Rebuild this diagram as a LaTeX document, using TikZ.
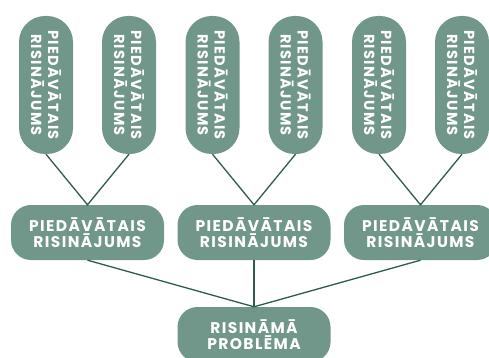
\documentclass[tikz,border=0pt]{standalone}
\usepackage{fontspec}
\newfontfamily\pillfont{Poppins}[LetterSpace=9, BoldFont={* Bold}]
\definecolor{pillfill}{HTML}{71968A}
\definecolor{linkline}{HTML}{2D5C4C}
\begin{document}
\begin{tikzpicture}[x=1pt,y=1pt,
  pill/.style={fill=pillfill, rounded corners=20pt, minimum width=153pt, minimum height=55pt,
    inner sep=0pt, align=center, text=white, font=\pillfont\bfseries\fontsize{15.5}{16}\selectfont},
  vpill/.style={fill=pillfill, rounded corners=26pt, minimum width=138pt, minimum height=54pt,
    inner sep=0pt, align=center, text=white, rotate=-90, font=\pillfont\bfseries\fontsize{14.6}{17}\selectfont},
  link/.style={draw=linkline, line width=1.3pt}]
\useasboundingbox (0,0) rectangle (489,-358);
% bottom
\node[pill] (p) at (254,-334.5) {RISINĀMĀ\\PROBLĒMA};
% middle
\node[pill] (m1) at (87.5,-232.5) {PIEDĀVĀTAIS\\RISINĀJUMS};
\node[pill] (m2) at (254,-232.5) {PIEDĀVĀTAIS\\RISINĀJUMS};
\node[pill] (m3) at (420.5,-232.5) {PIEDĀVĀTAIS\\RISINĀJUMS};
% top
\node[vpill] (t1) at (46,-85) {PIEDĀVĀTAIS\\RISINĀJUMS};
\node[vpill] (t2) at (129,-85) {PIEDĀVĀTAIS\\RISINĀJUMS};
\node[vpill] (t3) at (212.5,-85) {PIEDĀVĀTAIS\\RISINĀJUMS};
\node[vpill] (t4) at (295.5,-85) {PIEDĀVĀTAIS\\RISINĀJUMS};
\node[vpill] (t5) at (379,-85) {PIEDĀVĀTAIS\\RISINĀJUMS};
\node[vpill] (t6) at (462,-85) {PIEDĀVĀTAIS\\RISINĀJUMS};
% links
\draw[link] (t1.east) -- (m1.north) -- (t2.east);
\draw[link] (t3.east) -- (m2.north) -- (t4.east);
\draw[link] (t5.east) -- (m3.north) -- (t6.east);
\draw[link] (m1.south) -- (p.north);
\draw[link] (m2.south) -- (p.north);
\draw[link] (m3.south) -- (p.north);
\end{tikzpicture}
\end{document}
